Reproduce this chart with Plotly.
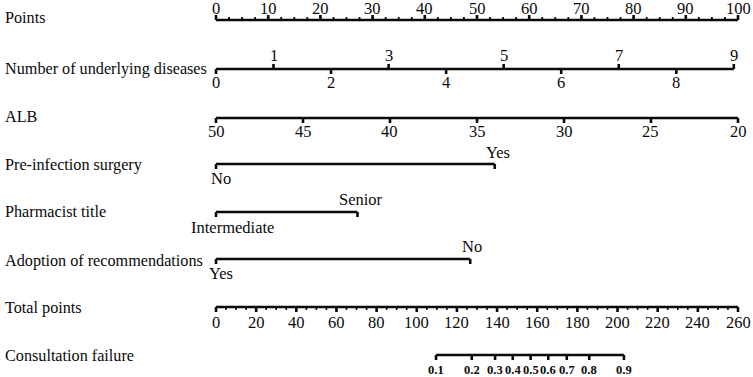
import plotly.graph_objects as go

# ---------------- data ----------------
points_ticks = [0, 10, 20, 30, 40, 50, 60, 70, 80, 90, 100]
disease_values = [0, 1, 2, 3, 4, 5, 6, 7, 8, 9]
disease_points = [0, 11.02, 22.04, 33.07, 44.09, 55.11, 66.13, 77.16, 88.18, 99.2]
alb_values = [50, 45, 40, 35, 30, 25, 20]
alb_points = [0, 16.67, 33.33, 50.0, 66.67, 83.33, 100.0]
surgery_levels = ["No", "Yes"]
surgery_points = [0, 53.4]
title_levels = ["Intermediate", "Senior"]
title_points = [0, 27.1]
adoption_levels = ["Yes", "No"]
adoption_points = [0, 48.7]
total_ticks = [0, 20, 40, 60, 80, 100, 120, 140, 160, 180, 200, 220, 240, 260]
prob_labels = ["0.1", "0.2", "0.3", "0.4", "0.5", "0.6", "0.7", "0.8", "0.9"]
prob_total_points = [109.6, 127.4, 139.0, 147.8, 156.7, 165.5, 174.7, 185.9, 203.2]
row_names = ["Points", "Number of underlying diseases", "ALB", "Pre-infection surgery",
             "Pharmacist title", "Adoption of recommendations", "Total points",
             "Consultation failure"]

# ---------------- layout constants ----------------
W, H = 753, 377
X0, X1 = 216.0, 738.0          # pixel positions of 0 and max on the scales
PPU = (X1 - X0) / 100.0        # pixels per point
TPU = (X1 - X0) / 260.0        # pixels per total point
FONT = "Liberation Serif, Times New Roman, serif"
COL = "#0a0a0a"
LW = 2.6
FS = 16.5
FS_ROW = 16.2

row_y = [20, 69, 118, 164, 212, 259, 307, 355]
row_label_y = [18, 69, 117, 165, 212, 261, 308, 356]

fig = go.Figure()
ann = []


def hline(x0, x1, y, xa="x"):
    fig.add_trace(go.Scatter(x=[x0, x1], y=[y, y], mode="lines", xaxis=xa,
                             line=dict(color=COL, width=LW), hoverinfo="skip",
                             showlegend=False))


def ticks(xs, y, length, xa="x", width=LW):
    tx, ty = [], []
    for x in xs:
        tx += [x, x, None]
        ty += [y, y + length, None]
    fig.add_trace(go.Scatter(x=tx, y=ty, mode="lines", xaxis=xa,
                             line=dict(color=COL, width=width), hoverinfo="skip",
                             showlegend=False))


def label(x, y, text, xa="x", size=FS, bold=False, xshift=0):
    ann.append(dict(x=x, y=y, xref=xa, yref="y", text=("<b>%s</b>" % text) if bold else text,
                    showarrow=False, xanchor="center", yanchor="middle", xshift=xshift,
                    font=dict(family=FONT, size=size, color=COL)))


# Points
y = row_y[0]
hline(points_ticks[0], points_ticks[-1], y)
minor = [i * 2.5 for i in range(41)]
ticks(minor, y, -3, width=1.8)
ticks(points_ticks, y, -5)
for v in points_ticks:
    label(v, 8, str(v))

# Number of underlying diseases
y = row_y[1]
hline(disease_points[0], disease_points[-1], y)
for v, p in zip(disease_values, disease_points):
    if v % 2 == 1:
        ticks([p], y, -5)
        label(p, 55, str(v))
    else:
        ticks([p], y, 5)
        label(p, 82, str(v))

# ALB
y = row_y[2]
hline(alb_points[0], alb_points[-1], y)
ticks(alb_points, y, 5)
for v, p in zip(alb_values, alb_points):
    label(p, 131, str(v))

# Categorical rows: first level below, second above
cat_rows = [(surgery_levels, surgery_points, row_y[3], 178, 152, 5, 3),
            (title_levels, title_points, row_y[4], 227, 199, 16, 4),
            (adoption_levels, adoption_points, row_y[5], 273, 246, 5, 2)]
for levels, pts, y, ylo, yhi, sh0, sh1 in cat_rows:
    hline(pts[0], pts[1], y)
    ticks(pts, y, 5)
    label(pts[0], ylo, levels[0], xshift=sh0)
    label(pts[1], yhi, levels[1], xshift=sh1)

# Total points (secondary x axis in total-point units)
y = row_y[6]
hline(total_ticks[0], total_ticks[-1], y, xa="x2")
ticks([i * 5 for i in range(53)], y, 3, xa="x2", width=1.6)
ticks(total_ticks, y, 5, xa="x2")
for v in total_ticks:
    label(v, 322, str(v), xa="x2")

# Consultation failure
y = row_y[7]
hline(prob_total_points[0], prob_total_points[-1], y, xa="x2")
ticks(prob_total_points, y, 5, xa="x2")
for t, p in zip(prob_labels, prob_total_points):
    label(p, 370, t, xa="x2", size=12.5, bold=True)

# Row names
for name, yy in zip(row_names, row_label_y):
    ann.append(dict(x=3 / W, y=yy, xref="paper", yref="y", text=name, showarrow=False,
                    xanchor="left", yanchor="middle",
                    font=dict(family=FONT, size=FS_ROW, color=COL)))

fig.update_layout(
    width=W, height=H, margin=dict(l=0, r=0, t=0, b=0),
    paper_bgcolor="white", plot_bgcolor="white",
    xaxis=dict(range=[(0 - X0) / PPU, (W - X0) / PPU], visible=False, fixedrange=True),
    xaxis2=dict(range=[(0 - X0) / TPU, (W - X0) / TPU], visible=False, overlaying="x",
                fixedrange=True),
    yaxis=dict(range=[H, 0], visible=False, fixedrange=True),
    annotations=ann, showlegend=False,
)

fig.write_html("out.html", config={"displayModeBar": False})

# remove the browser's default body margin so the figure fills the window exactly
with open("out.html", "r", encoding="utf-8") as f:
    html = f.read()
html = html.replace("<head>", "<head><style>html,body{margin:0;padding:0;overflow:hidden;}</style>", 1)
with open("out.html", "w", encoding="utf-8") as f:
    f.write(html)
